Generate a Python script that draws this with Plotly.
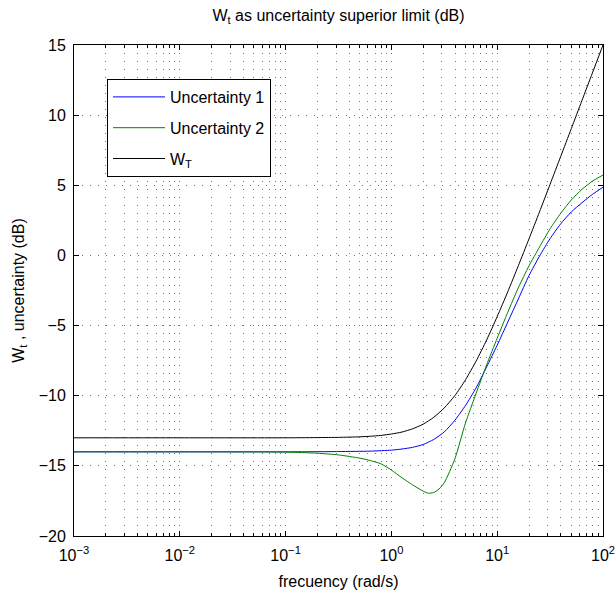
import plotly.graph_objects as go

# ---- data ----
freq_black = [0.001, 0.01, 0.1, 0.316, 0.501, 0.631, 0.794, 1.0, 1.259, 1.585, 1.995, 2.512, 3.162,
              3.981, 5.012, 6.31, 7.943, 10.0, 12.59, 15.85, 19.95, 25.12, 31.62, 39.81, 50.12,
              63.1, 79.43, 100.0]
wt_black = [-13.0, -13.0, -13.0, -12.97, -12.93, -12.89, -12.83, -12.73, -12.59, -12.36, -12.03,
            -11.54, -10.87, -9.99, -8.87, -7.54, -6.03, -4.36, -2.59, -0.73, 1.17, 3.11, 5.07,
            7.05, 9.03, 11.02, 13.01, 15.0]

freq_blue = [0.001, 0.01, 0.1, 0.316, 0.631, 1.0, 1.259, 1.585, 1.995, 2.512, 3.162, 3.981, 5.012,
             6.31, 7.943, 10.0, 12.59, 15.85, 19.95, 25.12, 31.62, 39.81, 50.12, 63.1, 79.43, 100.0]
unc1 = [-14.0, -14.0, -14.0, -13.98, -13.95, -13.88, -13.8, -13.68, -13.48, -13.12, -12.58, -11.75,
        -10.7, -9.45, -7.95, -6.4, -4.75, -3.1, -1.45, -0.05, 1.2, 2.25, 3.1, 3.75, 4.35, 4.86]

freq_green = [0.001, 0.01, 0.1, 0.2, 0.316, 0.501, 0.631, 0.794, 1.0, 1.259, 1.585, 1.995, 2.239,
              2.512, 2.818, 3.162, 3.981, 5.012, 6.31, 7.943, 10.0, 12.59, 15.85, 19.95, 25.12,
              31.62, 39.81, 50.12, 63.1, 79.43, 100.0]
unc2 = [-14.0, -14.0, -14.02, -14.1, -14.22, -14.45, -14.62, -14.85, -15.3, -15.85, -16.35, -16.8,
        -16.95, -16.9, -16.65, -16.2, -14.5, -11.95, -9.85, -7.8, -5.9, -4.05, -2.3, -0.75, 0.6,
        1.9, 3.0, 3.95, 4.7, 5.3, 5.73]

x_tick_vals = [0.001, 0.01, 0.1, 1, 10, 100]
x_tick_text = ["10<sup>\u22123</sup>", "10<sup>\u22122</sup>", "10<sup>\u22121</sup>",
               "10<sup>0</sup>", "10<sup>1</sup>", "10<sup>2</sup>"]
y_tick_vals = [-20, -15, -10, -5, 0, 5, 10, 15]

FONT = "Liberation Sans, Arial, Helvetica, sans-serif"
FS = 16
GRID = "rgba(0,0,0,0.55)"
DOTS = "1px,7px"

minor_x = [m * 10.0 ** e for e in range(-3, 2) for m in range(2, 10)]

line_style = dict(width=1, shape="spline", smoothing=0.6)

fig = go.Figure()
fig.add_trace(go.Scatter(x=freq_blue, y=unc1, mode="lines", name="Uncertainty 1", legendgroup="a",
                         line=dict(color="#0000ff", **line_style)))
fig.add_trace(go.Scatter(x=freq_green, y=unc2, mode="lines", name="Uncertainty 2", legendgroup="b",
                         line=dict(color="#008000", **line_style)))
fig.add_trace(go.Scatter(x=freq_black, y=wt_black, mode="lines", name="W<sub>T</sub>", legendgroup="c",
                         line=dict(color="#000000", **line_style)))

fig.update_layout(
    width=615, height=596,
    margin=dict(l=74, r=12, t=45, b=60),
    paper_bgcolor="white", plot_bgcolor="white",
    font=dict(family=FONT, size=FS, color="black"),
    title=dict(text="W<sub>t</sub> as uncertainty superior limit (dB)",
               x=0.5, xref="paper", xanchor="center",
               y=1 - 15 / 596, yref="container", yanchor="middle",
               font=dict(family=FONT, size=FS, color="black")),
    showlegend=True,
    legend=dict(x=(107 - 74) / 529, y=(536 - 79) / 491, xanchor="left", yanchor="top",
                bgcolor="white", bordercolor="black", borderwidth=1,
                font=dict(family=FONT, size=FS, color="black"),
                tracegroupgap=7, itemwidth=52),
    xaxis=dict(type="log", range=[-3, 2], automargin=False,
               tickmode="array", tickvals=x_tick_vals, ticktext=x_tick_text,
               ticks="inside", ticklen=5, tickcolor="black", ticklabeloverflow="allow",
               ticklabelstandoff=5,
               showline=True, linecolor="black", linewidth=1, mirror="allticks",
               showgrid=True, gridcolor=GRID, gridwidth=1, griddash=DOTS,
               zeroline=False,
               minor=dict(tickmode="array", tickvals=minor_x, ticks="inside", ticklen=3,
                          tickcolor="black", showgrid=True, gridcolor=GRID,
                          gridwidth=1, griddash=DOTS),
               title=dict(text="frecuency (rad/s)", standoff=12,
                          font=dict(family=FONT, size=FS, color="black")),
               tickfont=dict(family=FONT, size=FS, color="black")),
    yaxis=dict(range=[-20, 15], tickmode="array", tickvals=y_tick_vals, automargin=False,
               ticks="inside", ticklen=5, tickcolor="black",
               showline=True, linecolor="black", linewidth=1, mirror="allticks",
               showgrid=True, gridcolor=GRID, gridwidth=1, griddash=DOTS,
               zeroline=False, ticklabelstandoff=4,
               title=dict(text="W<sub>t</sub> , uncertainty (dB)", standoff=10,
                          font=dict(family=FONT, size=FS, color="black")),
               tickfont=dict(family=FONT, size=FS, color="black")),
)

fig.write_html("out.html", config={"displayModeBar": False},
               post_script="document.body.style.margin='0';document.body.style.overflow='hidden';")
